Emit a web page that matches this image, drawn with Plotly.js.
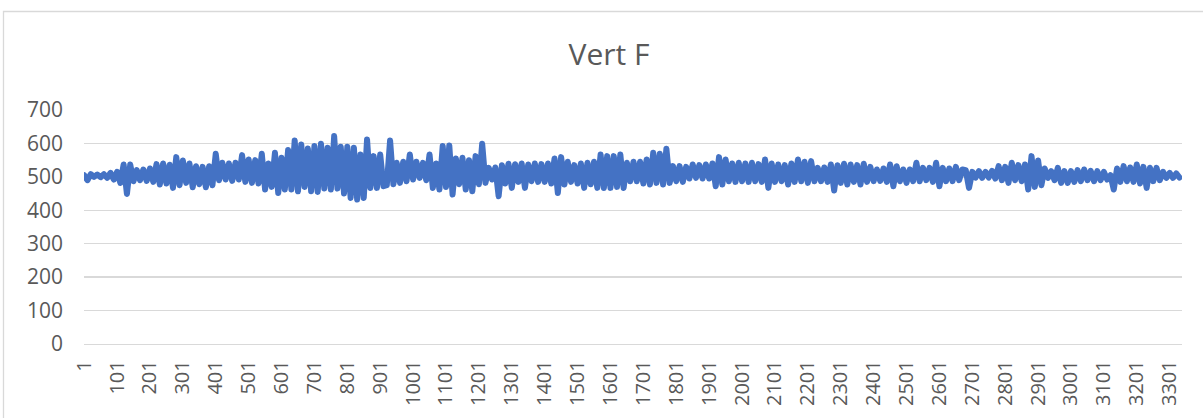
<!DOCTYPE html>
<html>
<head>
<meta charset="utf-8">
<script src="https://cdn.plot.ly/plotly-3.0.1.min.js"></script>
<style>
  html, body { margin: 0; padding: 0; background: #ffffff; }
  #chart { width: 1203px; height: 418px; }
  .scatterlayer .js-line { stroke-linejoin: round !important; stroke-linecap: round !important; }
</style>
</head>
<body>
<div id="chart"></div>
<script>
// Chart title
const chartTitle = "Vert F";

// Sample numbers: readings are taken every 10th sample, starting at sample 1
const firstSample = 1;
const sampleStep = 10;
const lastSample = 3338;

// Vert F readings (one value per 10 samples)
const vertF = [
  505, 490, 508, 500, 507, 499, 508, 497, 512, 492,
  515, 482, 537, 449, 537, 487, 520, 490, 522, 488,
  525, 485, 538, 477, 540, 480, 536, 467, 559, 475,
  549, 482, 540, 469, 532, 478, 530, 469, 532, 475,
  569, 490, 542, 492, 540, 488, 542, 492, 565, 485,
  552, 482, 550, 480, 569, 462, 540, 470, 572, 452,
  557, 462, 580, 462, 609, 457, 597, 470, 585, 457,
  592, 455, 599, 465, 587, 462, 622, 465, 590, 450,
  590, 437, 587, 432, 567, 437, 612, 467, 562, 467,
  567, 472, 475, 609, 478, 542, 482, 545, 487, 567,
  492, 545, 497, 542, 490, 567, 467, 540, 462, 592,
  470, 594, 447, 555, 478, 557, 462, 550, 457, 562,
  478, 599, 482, 527, 492, 528, 442, 535, 480, 539,
  467, 538, 485, 540, 467, 537, 487, 540, 485, 538,
  485, 540, 480, 555, 452, 559, 477, 545, 485, 535,
  480, 540, 467, 542, 478, 545, 467, 567, 467, 562,
  467, 562, 470, 567, 467, 542, 487, 545, 487, 545,
  480, 552, 477, 572, 482, 569, 477, 584, 482, 532,
  487, 532, 485, 530, 495, 537, 497, 535, 495, 537,
  495, 540, 472, 559, 477, 552, 487, 540, 485, 542,
  487, 540, 485, 542, 487, 538, 485, 552, 467, 540,
  485, 537, 487, 535, 477, 540, 485, 552, 487, 545,
  482, 547, 487, 527, 487, 528, 485, 537, 459, 535,
  482, 539, 477, 537, 485, 535, 477, 539, 485, 530,
  487, 522, 488, 525, 485, 537, 472, 532, 487, 522,
  482, 522, 487, 542, 487, 527, 490, 527, 485, 542,
  472, 527, 487, 525, 487, 530, 490, 522, 520, 467,
  515, 498, 517, 497, 515, 498, 518, 495, 532, 490,
  530, 482, 542, 490, 535, 487, 537, 462, 562, 470,
  549, 475, 525, 497, 517, 490, 527, 482, 517, 482,
  517, 485, 520, 487, 522, 490, 518, 487, 517, 490,
  515, 492, 505, 462, 525, 485, 532, 487, 528, 485,
  537, 480, 530, 467, 527, 487, 527, 490, 515, 497,
  512, 497, 510, 498
];

// Category tick labels along the x axis
const tickLabels = ["1","101","201","301","401","501","601","701","801","901",
  "1001","1101","1201","1301","1401","1501","1601","1701","1801","1901",
  "2001","2101","2201","2301","2401","2501","2601","2701","2801","2901",
  "3001","3101","3201","3301"];

// Value axis ticks
const yTicks = [0, 100, 200, 300, 400, 500, 600, 700];

const sampleNumbers = vertF.map((_, i) => firstSample + i * sampleStep);
const tickVals = tickLabels.map(Number);

const textColor = "#595959";
const gridColor = "#D9D9D9";
const fontFam = "'Open Sans', 'Liberation Sans', sans-serif";

// plot area geometry (pixels) used for the outer border shape
const W = 1203, H = 418;
const m = { l: 84, r: 21, t: 110, b: 74 };
const pw = W - m.l - m.r, ph = H - m.t - m.b;
const px = v => (v - m.l) / pw;
const py = v => (H - m.b - v) / ph;

const trace = {
  type: "scatter",
  mode: "lines",
  x: sampleNumbers,
  y: vertF,
  line: { color: "#4472C4", width: 6, shape: "linear" },
  hoverinfo: "x+y",
  showlegend: false
};

const layout = {
  width: W,
  height: H,
  margin: m,
  paper_bgcolor: "#ffffff",
  plot_bgcolor: "#ffffff",
  font: { family: fontFam, color: textColor, size: 20 },
  title: {
    text: chartTitle,
    font: { family: fontFam, size: 30, color: textColor },
    x: 609 / W, xref: "container", xanchor: "center",
    y: (H - 54) / H, yref: "container", yanchor: "middle"
  },
  xaxis: {
    range: [0.5, lastSample + 0.5],
    tickmode: "array",
    tickvals: tickVals,
    ticktext: tickLabels,
    tickangle: -90,
    tickfont: { family: fontFam, size: 20, color: textColor },
    showgrid: false,
    zeroline: false,
    showline: true,
    linecolor: gridColor,
    linewidth: 1.3,
    ticks: "",
    ticklabelstandoff: 7,
    fixedrange: true
  },
  yaxis: {
    range: [0, 700],
    tickmode: "array",
    tickvals: yTicks,
    tickfont: { family: fontFam, size: 21, color: textColor },
    showgrid: true,
    gridcolor: gridColor,
    gridwidth: 1.3,
    zeroline: false,
    showline: false,
    ticks: "",
    ticklabelstandoff: 20,
    fixedrange: true
  },
  shapes: [{
    type: "rect",
    xref: "paper", yref: "paper",
    x0: px(3.5), x1: px(1210),
    y0: py(425), y1: py(11.5),
    line: { color: gridColor, width: 1.3 },
    fillcolor: "rgba(0,0,0,0)",
    layer: "below"
  }]
};

Plotly.newPlot("chart", [trace], layout, { displayModeBar: false, staticPlot: true });
</script>
</body>
</html>
